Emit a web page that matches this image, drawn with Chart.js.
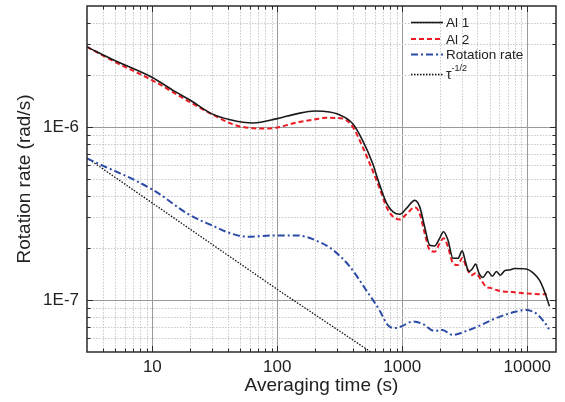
<!DOCTYPE html>
<html>
<head>
<meta charset="utf-8">
<script src="https://cdn.jsdelivr.net/npm/chart.js@4.4.1/dist/chart.umd.min.js"></script>
<style>
  html, body { margin: 0; padding: 0; background: #fff; }
</style>
</head>
<body>
<canvas id="chartAllan" width="565" height="402"></canvas>
<script>
// valeurs (echelle log-log)

// Al 1 (trait plein noir)
const tauAl1 = [3, 5, 10, 15, 20, 30, 42, 64, 100, 142, 200, 262, 300, 400, 480, 580, 640, 750, 845, 955, 1080, 1260, 1380, 1510, 1660, 1815, 1990, 2140, 2320, 2545, 2790, 3020, 3205, 3410, 3630, 3865, 4110, 4420, 4850, 5260, 5670, 6090, 6650, 7230, 7930, 9830, 11090, 12530, 13740, 15060];
const al1 = [2.9e-6, 2.42e-6, 1.93e-6, 1.61e-6, 1.43e-6, 1.19e-6, 1.10e-6, 1.054e-6, 1.117e-6, 1.19e-6, 1.236e-6, 1.22e-6, 1.19e-6, 1.046e-6, 8.4e-7, 6.15e-7, 4.93e-7, 3.61e-7, 3.23e-7, 3.13e-7, 3.38e-7, 3.76e-7, 3.45e-7, 2.65e-7, 2.07e-7, 2.05e-7, 2.27e-7, 2.48e-7, 2.22e-7, 1.74e-7, 1.74e-7, 1.92e-7, 1.66e-7, 1.46e-7, 1.51e-7, 1.61e-7, 1.43e-7, 1.35e-7, 1.46e-7, 1.37e-7, 1.46e-7, 1.39e-7, 1.48e-7, 1.49e-7, 1.52e-7, 1.51e-7, 1.44e-7, 1.30e-7, 1.12e-7, 9.2e-8];

// Al 2 (tirets rouges)
const tauAl2 = [3, 5, 10, 20, 31, 44, 60, 81, 100, 142, 193, 246, 334, 402, 469, 563, 661, 747, 843, 955, 1080, 1259, 1378, 1511, 1656, 1816, 1991, 2142, 2321, 2545, 2791, 3020, 3250, 3573, 3895, 4285, 4700, 5160, 5666, 6385, 7650, 9830, 12530, 14360];
const al2 = [2.9e-6, 2.38e-6, 1.86e-6, 1.39e-6, 1.17e-6, 1.036e-6, 9.87e-7, 9.79e-7, 9.92e-7, 1.06e-6, 1.10e-6, 1.13e-6, 1.117e-6, 1.0e-6, 8.0e-7, 5.88e-7, 4.4e-7, 3.45e-7, 3.03e-7, 2.92e-7, 3.13e-7, 3.43e-7, 3.16e-7, 2.43e-7, 1.95e-7, 1.90e-7, 2.12e-7, 2.27e-7, 2.03e-7, 1.63e-7, 1.59e-7, 1.75e-7, 1.56e-7, 1.39e-7, 1.43e-7, 1.30e-7, 1.19e-7, 1.17e-7, 1.14e-7, 1.12e-7, 1.11e-7, 1.09e-7, 1.08e-7, 1.08e-7];

// Rotation rate (tiret-point bleu)
const tauRot = [3, 10, 20, 31, 42, 57, 100, 142, 200, 280, 380, 514, 656, 765, 865, 980, 1213, 1456, 1808, 2099, 2524, 3230, 4125, 5614, 7603, 9725, 11690, 13620, 14930];
const rot = [6.57e-7, 4.35e-7, 3.09e-7, 2.67e-7, 2.43e-7, 2.32e-7, 2.36e-7, 2.36e-7, 2.22e-7, 1.94e-7, 1.56e-7, 1.14e-7, 8.75e-8, 7.17e-8, 6.87e-8, 7.02e-8, 7.5e-8, 7.27e-8, 6.62e-8, 6.7e-8, 6.28e-8, 6.6e-8, 7.08e-8, 7.84e-8, 8.45e-8, 8.75e-8, 8.38e-8, 7.5e-8, 6.78e-8];

// droite tau^-1/2 (pointilles noirs)
const tauRef = [3, 100, 560];
const ref = [6.62e-7, 1.15e-7, 5.0e-8];

// graduations
const xTickValues = [10, 100, 1000, 10000];
const xTickLabels = ['10', '100', '1000', '10000'];
const yTickValues = [1e-7, 1e-6];
const yTickLabels = ['1E-7', '1E-6'];
const xMin = 3, xMax = 17000;
const yMin = 5e-8, yMax = 5e-6;

const FONT = "'Liberation Sans', Arial, Helvetica, sans-serif";

function toPoints(xs, ys) {
  return xs.map((x, i) => ({ x: x, y: ys[i] }));
}

function findTick(values, v) {
  return values.findIndex(t => Math.abs(Math.log10(t) - Math.log10(v)) < 1e-6);
}

// positions 1..9 x 10^n comprises dans [min, max]
function logSteps(min, max) {
  const out = [];
  for (let e = Math.floor(Math.log10(min)); e <= Math.ceil(Math.log10(max)); e++) {
    for (let k = 1; k <= 9; k++) {
      const v = k * Math.pow(10, e);
      if (v > min * 1.0001 && v < max * 0.9999) out.push({ v: v, major: k === 1 });
    }
  }
  return out;
}

// pas de marge automatique autour des axes
function noPadding(s) {
  s.paddingTop = 0; s.paddingBottom = 0; s.paddingLeft = 0; s.paddingRight = 0;
}

const styles = [
  { label: 'Al 1', color: '#1a1a1a', width: 1.6, dash: [] },
  { label: 'Al 2', color: '#ec1c24', width: 2, dash: [5, 3] },
  { label: 'Rotation rate', color: '#2b4ba6', width: 2, dash: [7, 3, 2, 3] },
  { label: 'tau', color: '#111111', width: 1.3, dash: [1.5, 1.5] }
];

// grille : majeures pleines, mineures pointillees
const gridPlugin = {
  id: 'gridPlugin',
  beforeDatasetsDraw(chart) {
    const { ctx, chartArea: a, scales: { x, y } } = chart;
    ctx.save();
    ctx.lineWidth = 1;
    logSteps(xMin, xMax).forEach(s => {
      const px = Math.round(x.getPixelForValue(s.v)) + 0.5;
      ctx.strokeStyle = s.major ? '#9a9a9a' : '#c8c8c8';
      ctx.setLineDash(s.major ? [] : [1.5, 1.5]);
      ctx.beginPath(); ctx.moveTo(px, a.top); ctx.lineTo(px, a.bottom); ctx.stroke();
    });
    logSteps(yMin, yMax).forEach(s => {
      const py = Math.round(y.getPixelForValue(s.v)) + 0.5;
      ctx.strokeStyle = s.major ? '#9a9a9a' : '#c8c8c8';
      ctx.setLineDash(s.major ? [] : [1.5, 1.5]);
      ctx.beginPath(); ctx.moveTo(a.left, py); ctx.lineTo(a.right, py); ctx.stroke();
    });
    ctx.restore();
  },
  afterDatasetsDraw(chart) {
    const { ctx, chartArea: a, scales: { x, y } } = chart;
    ctx.save();
    ctx.strokeStyle = '#2a2a2a';
    ctx.lineWidth = 1;
    ctx.setLineDash([]);
    // petites graduations vers l'interieur, sur les 4 cotes
    logSteps(xMin, xMax).forEach(s => {
      const px = Math.round(x.getPixelForValue(s.v)) + 0.5;
      const l = s.major ? 6 : 3.5;
      ctx.beginPath();
      ctx.moveTo(px, a.bottom); ctx.lineTo(px, a.bottom - l);
      ctx.moveTo(px, a.top); ctx.lineTo(px, a.top + l);
      ctx.stroke();
    });
    logSteps(yMin, yMax).forEach(s => {
      const py = Math.round(y.getPixelForValue(s.v)) + 0.5;
      const l = s.major ? 6 : 3.5;
      ctx.beginPath();
      ctx.moveTo(a.left, py); ctx.lineTo(a.left + l, py);
      ctx.moveTo(a.right, py); ctx.lineTo(a.right - l, py);
      ctx.stroke();
    });
    // cadre
    ctx.lineWidth = 1.5;
    ctx.strokeRect(a.left, a.top, a.right - a.left, a.bottom - a.top);
    ctx.restore();
  },
  afterDraw(chart) {
    // legende dans le coin haut droit
    const ctx = chart.ctx;
    const rows = [22.5, 39, 54.5, 74.5];
    const x0 = 411, x1 = 443, xt = 446;
    ctx.save();
    styles.forEach((s, i) => {
      ctx.strokeStyle = s.color;
      ctx.lineWidth = s.width;
      ctx.setLineDash(s.dash);
      ctx.beginPath(); ctx.moveTo(x0, rows[i]); ctx.lineTo(x1, rows[i]); ctx.stroke();
    });
    ctx.setLineDash([]);
    ctx.fillStyle = '#222';
    ctx.textAlign = 'left';
    ctx.textBaseline = 'middle';
    ctx.font = '13.5px ' + FONT;
    ctx.fillText('Al 1', xt, rows[0] + 1);
    ctx.fillText('Al 2', xt, rows[1] + 1);
    ctx.fillText('Rotation rate', xt, rows[2] + 1);
    ctx.textBaseline = 'alphabetic';
    ctx.font = '14px ' + FONT;
    ctx.fillText('τ', xt, 78.5);
    const w = ctx.measureText('τ').width;
    ctx.font = '9px ' + FONT;
    ctx.fillText('-1/2', xt + w, 70.5);
    ctx.restore();
  }
};

const ctx = document.getElementById('chartAllan').getContext('2d');
new Chart(ctx, {
  type: 'line',
  data: {
    datasets: [
      { data: toPoints(tauAl1, al1) },
      { data: toPoints(tauAl2, al2) },
      { data: toPoints(tauRot, rot) },
      { data: toPoints(tauRef, ref), cubicInterpolationMode: 'default', tension: 0 }
    ].map((d, i) => Object.assign({
      label: styles[i].label,
      borderColor: styles[i].color,
      borderWidth: styles[i].width,
      borderDash: styles[i].dash,
      pointRadius: 0,
      fill: false,
      cubicInterpolationMode: 'monotone'
    }, d))
  },
  options: {
    responsive: false,
    animation: false,
    devicePixelRatio: 1,
    layout: { padding: { top: 6, right: 9, left: 0, bottom: 0 } },
    plugins: { legend: { display: false }, tooltip: { enabled: false } },
    scales: {
      x: {
        type: 'logarithmic',
        min: xMin,
        max: xMax,
        grid: { display: false, drawTicks: false, tickLength: 0 },
        border: { display: false },
        afterFit: s => { s.height = 50; noPadding(s); },
        ticks: {
          autoSkip: false,
          maxRotation: 0,
          padding: 5,
          color: '#222',
          font: { family: FONT, size: 17 },
          callback: v => { const i = findTick(xTickValues, v); return i < 0 ? null : xTickLabels[i]; }
        },
        title: {
          display: true,
          text: 'Averaging time (s)',
          color: '#222',
          font: { family: FONT, size: 19 },
          padding: { top: 0, bottom: 5 }
        }
      },
      y: {
        type: 'logarithmic',
        min: yMin,
        max: yMax,
        grid: { display: false, drawTicks: false, tickLength: 0 },
        border: { display: false },
        afterFit: s => { s.width = 87; noPadding(s); },
        ticks: {
          autoSkip: false,
          padding: 8,
          color: '#222',
          font: { family: FONT, size: 17 },
          callback: v => { const i = findTick(yTickValues, v); return i < 0 ? null : yTickLabels[i]; }
        },
        title: {
          display: true,
          text: 'Rotation rate (rad/s)',
          color: '#222',
          font: { family: FONT, size: 19 },
          padding: { top: 13, bottom: 0 }
        }
      }
    }
  },
  plugins: [gridPlugin]
});
</script>
</body>
</html>
